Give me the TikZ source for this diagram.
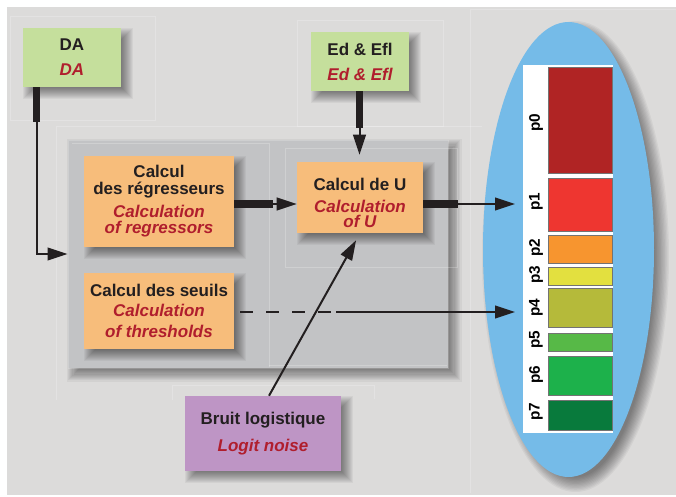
\documentclass[tikz,border=0pt]{standalone}
\usepackage{fontspec}
\setmainfont{Liberation Sans}
\usetikzlibrary{arrows.meta,shapes.geometric}
\definecolor{bgc}{HTML}{DCDBDA}
\definecolor{corec}{HTML}{C2C3C5}
\definecolor{boxgreen}{HTML}{C5DF9C}
\definecolor{boxorange}{HTML}{F7BD7B}
\definecolor{boxpurple}{HTML}{BE95C5}
\definecolor{redtxt}{HTML}{B01E2D}
\definecolor{blacktxt}{HTML}{231F20}
\definecolor{ellblue}{HTML}{75BBE8}
\definecolor{pzero}{HTML}{B02424}
\definecolor{pone}{HTML}{EE3630}
\definecolor{ptwo}{HTML}{F7952F}
\definecolor{pthree}{HTML}{E3E03F}
\definecolor{pfour}{HTML}{B5BA3A}
\definecolor{pfive}{HTML}{57B947}
\definecolor{psix}{HTML}{1DB14B}
\definecolor{pseven}{HTML}{087A3C}
\newcommand\redit[1]{{\color{redtxt}\itshape #1}}
% soft shadow of a rectangular node: #1 node, #2 offset (px), #3 blur (px)
\newcommand\boxshadow[3]{%
  \foreach \k in {0,...,11}{%
    \pgfmathsetmacro\shout{#3-\k*#3/6}%
    \pgfmathsetmacro\sha{#2-\shout}%
    \pgfmathsetmacro\shb{#2+\shout}%
    \fill[black,opacity=0.045] ([shift={(\sha,\sha)}]#1.north west) rectangle ([shift={(\shb,\shb)}]#1.south east);
  }}
\pgfdeclarelayer{back}
\pgfdeclarelayer{shadowA}
\pgfdeclarelayer{mid}
\pgfdeclarelayer{shadowB}
\pgfsetlayers{back,shadowA,mid,shadowB,main}
\begin{document}
\begin{tikzpicture}[x=0.75pt,y=-0.75pt,
  box/.style={inner sep=0pt,align=center,text=blacktxt,
    font={\fontsize{12.75}{12}\selectfont\bfseries\lineskiplimit=-20pt}},
  gbox/.style={box,fill=boxgreen,minimum width=73.5pt,minimum height=44.25pt},
  obox/.style={box,fill=boxorange},
  faint/.style={draw=white,draw opacity=0.22,line width=0.75pt},
  bar/.style={draw=black!55,line width=0.5pt,minimum width=48pt,inner sep=0pt},
  plab/.style={rotate=90,inner sep=0pt,text=black,font={\fontsize{11.5}{12}\selectfont\bfseries}},
  thin/.style={draw=blacktxt,line width=1.5pt,-{Triangle[length=15pt,width=9.5pt]}},
  thickh/.style={draw=blacktxt,line width=6.5pt},
  thickv/.style={draw=blacktxt,line width=5.25pt}
]
\useasboundingbox (0,0) rectangle (676,497);
\begin{pgfonlayer}{back}
\fill[bgc] (7,7) rectangle (676,495);
\draw[faint] (10,16) rectangle (155,120);
\draw[faint] (297,20) rectangle (443,126);
\draw[faint] (56,400) -- (56,126) -- (482,126);
\draw[faint] (470,493) -- (470,9) -- (676,9);
\draw[faint] (172,400) -- (172,385) -- (374,385) -- (374,399);
\end{pgfonlayer}
\begin{pgfonlayer}{mid}
\node[fill=corec,draw=white,draw opacity=0.2,line width=0.75pt,minimum width=285pt,minimum height=171pt,inner sep=0pt] (core) at (258,254) {};
\draw[faint] (72,143) -- (269,143) -- (269,367);
\draw[faint] (269,365) -- (447,365);
\draw[faint] (285,148) rectangle (457,267);
\node[ellipse,fill=ellblue,minimum width=128.25pt,minimum height=341.25pt,inner sep=0pt] (ell) at (568.5,249.5) {};
\node[fill=white,minimum width=67.5pt,minimum height=276pt,inner sep=0pt] (strip) at (568,249) {};
\node[bar,fill=pzero,minimum height=79.5pt] (b0) at (580,120) {};
\node[bar,fill=pone,minimum height=39.75pt] (b1) at (580,204.5) {};
\node[bar,fill=ptwo,minimum height=21pt] (b2) at (580,249) {};
\node[bar,fill=pthree,minimum height=13.5pt] (b3) at (580,276) {};
\node[bar,fill=pfour,minimum height=29.25pt] (b4) at (580,307.5) {};
\node[bar,fill=pfive,minimum height=13.5pt] (b5) at (580,342) {};
\node[bar,fill=psix,minimum height=29.25pt] (b6) at (580,375.5) {};
\node[bar,fill=pseven,minimum height=22.5pt] (b7) at (580,415) {};
\node[plab] (l0) at (536,123) {p0};
\node[plab] (l1) at (536,202) {p1};
\node[plab] (l2) at (536,248) {p2};
\node[plab] (l3) at (536,275) {p3};
\node[plab] (l4) at (536,308) {p4};
\node[plab] (l5) at (536,340) {p5};
\node[plab] (l6) at (536,375) {p6};
\node[plab] (l7) at (536,412) {p7};
\end{pgfonlayer}
\begin{pgfonlayer}{shadowA}
\boxshadow{core}{6}{7}
\foreach \k in {0,...,11}{%
  \pgfmathsetmacro\shout{8-\k*8/6}%
  \fill[black,opacity=0.045] ([shift={(7,7)}]ell.center) ellipse [x radius={(85.5+\shout)*0.75pt}, y radius={(227.5+\shout)*0.75pt}];
}
\end{pgfonlayer}
% boxes
\node[gbox] (DA) at (72,57.5) {DA\\[6.75pt]\redit{DA}};
\node[gbox] (Ed) at (360,61.5) {Ed \& Efl\\[6.75pt]\redit{Ed \& Efl}};
\node[obox,minimum width=112.5pt,minimum height=68.25pt] (Reg) at (159,201.5)
  {Calcul\\[0.75pt]des régresseurs\\[5.25pt]\redit{Calculation}\\\redit{of regressors}};
\node[obox,minimum width=94.5pt,minimum height=53.25pt] (U) at (360,197.5)
  {\rule{0pt}{16.8pt}Calcul de U\\[4.5pt]\redit{Calculation}\\[-0.75pt]\redit{of U}};
\node[obox,minimum width=112.5pt,minimum height=57pt] (Seu) at (159,311)
  {Calcul des seuils\\[2.6pt]\redit{Calculation}\\[3.75pt]\redit{of thresholds}};
\node[box,fill=boxpurple,minimum width=117pt,minimum height=56.25pt] (Bruit) at (263,433.5)
  {Bruit logistique\\[8.25pt]\redit{Logit noise}};
\begin{pgfonlayer}{shadowB}
\boxshadow{DA}{6}{6}
\boxshadow{Ed}{6}{6}
\boxshadow{Reg}{6}{6}
\boxshadow{U}{6}{6}
\boxshadow{Seu}{6}{6}
\boxshadow{Bruit}{6}{6}
\end{pgfonlayer}
% connector points
\coordinate (d1) at (36.5,122);
\coordinate (d2) at (36.5,254);
\coordinate (r1) at (273,204);
\coordinate (e1) at (359.5,128);
\coordinate (u1) at (458,204);
\coordinate (t1) at (515,204);
\coordinate (s1) at (336,312);
\coordinate (t4) at (515,312);
% connectors
\draw[thickv] (DA.south -| d1) -- (d1);
\draw[thin] (d1) -- (d2) -- (core.west |- d2);
\draw[thickh] (Reg.east |- r1) -- (r1);
\draw[thin] (r1) -- (U.west |- r1);
\draw[thickv] (Ed.south -| e1) -- (e1);
\draw[thin,shorten >=5.25pt] (e1) -- (U.north -| e1);
\draw[thickh] (U.east |- u1) -- (u1);
\draw[thin] (u1) -- (t1);
\draw[draw=blacktxt,line width=2pt,dash pattern=on 9.75pt off 9.75pt,shorten <=4.5pt] (Seu.east |- s1) -- (s1);
\draw[thin] (s1) -- (t4);
\draw[thin,shorten >=6pt] ([xshift=4.5pt]Bruit.north) -- (U.south);
\end{tikzpicture}
\end{document}
